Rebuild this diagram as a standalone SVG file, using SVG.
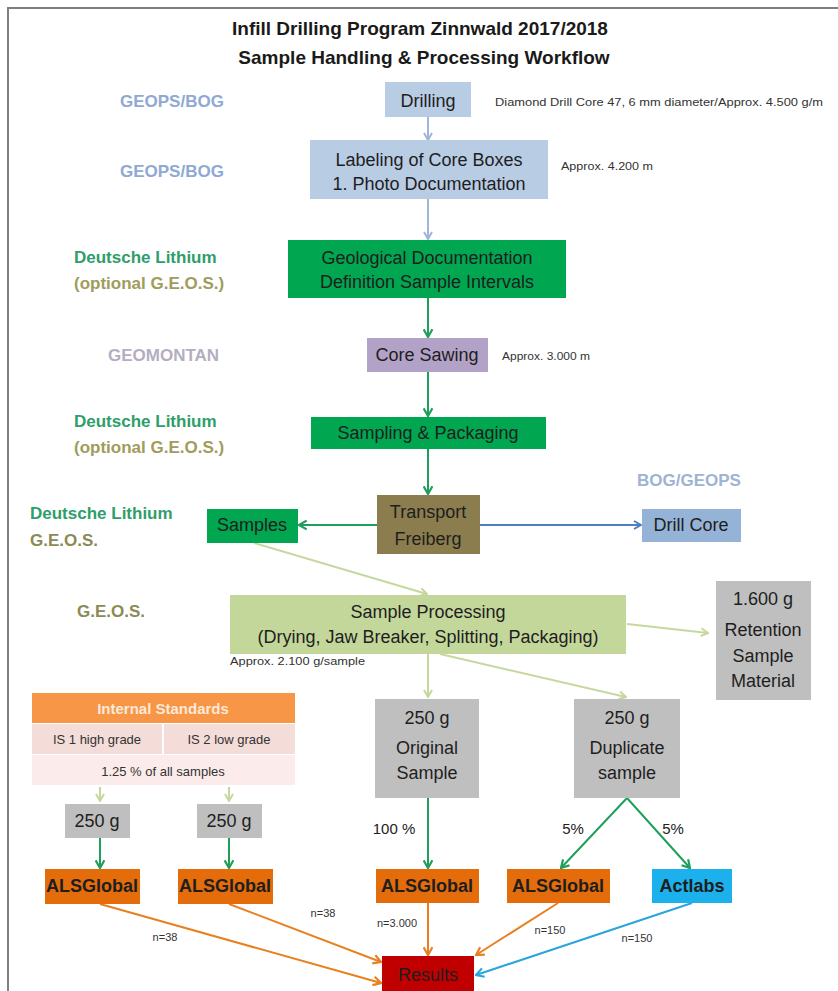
<svg xmlns="http://www.w3.org/2000/svg" width="838" height="991" viewBox="0 0 838 991">
  <style>
    text { font-family: "Liberation Sans", Arial, sans-serif; }
    .title { font-size: 19px; font-weight: bold; fill: #1a1a1a; text-anchor: middle; }
    .lbl { font-size: 17px; font-weight: bold; }
    .bx { font-size: 18px; fill: #1e1e1e; text-anchor: middle; }
    .note { font-size: 10px; fill: #333; }
    .pct { font-size: 15px; fill: #222; text-anchor: middle; }
    .n { font-size: 11px; fill: #333; text-anchor: middle; }
    .c-lb { stroke: #9fb6d8; }
    .c-gr { stroke: #1f9f5a; }
    .c-pg { stroke: #c6d89e; }
    .c-or { stroke: #e8801f; }
    .c-bl { stroke: #2aa6dc; }
    .c-db { stroke: #4f7fbd; }
    #connectors path { fill: none; stroke-width: 2; }
  </style>
  <defs>
    <marker id="a-lb" viewBox="0 0 10 10" refX="9" refY="5" markerWidth="10" markerHeight="10" markerUnits="userSpaceOnUse" orient="auto">
      <path d="M2,1 L9,5 L2,9" fill="none" stroke="#9fb6d8" stroke-width="2"/>
    </marker>
    <marker id="a-gr" viewBox="0 0 10 10" refX="9" refY="5" markerWidth="11" markerHeight="11" markerUnits="userSpaceOnUse" orient="auto">
      <path d="M2,1 L9,5 L2,9" fill="none" stroke="#1f9f5a" stroke-width="2"/>
    </marker>
    <marker id="a-pg" viewBox="0 0 10 10" refX="9" refY="5" markerWidth="10" markerHeight="10" markerUnits="userSpaceOnUse" orient="auto">
      <path d="M2,1 L9,5 L2,9" fill="none" stroke="#c6d89e" stroke-width="2"/>
    </marker>
    <marker id="a-or" viewBox="0 0 10 10" refX="9" refY="5" markerWidth="11" markerHeight="11" markerUnits="userSpaceOnUse" orient="auto">
      <path d="M2,1 L9,5 L2,9" fill="none" stroke="#e8801f" stroke-width="2"/>
    </marker>
    <marker id="a-bl" viewBox="0 0 10 10" refX="9" refY="5" markerWidth="11" markerHeight="11" markerUnits="userSpaceOnUse" orient="auto">
      <path d="M2,1 L9,5 L2,9" fill="none" stroke="#2aa6dc" stroke-width="2"/>
    </marker>
    <marker id="a-db" viewBox="0 0 10 10" refX="9" refY="5" markerWidth="10" markerHeight="10" markerUnits="userSpaceOnUse" orient="auto">
      <path d="M2,1 L9,5 L2,9" fill="none" stroke="#4f7fbd" stroke-width="2"/>
    </marker>
  </defs>

  <rect width="838" height="991" fill="#ffffff"/>
  <!-- page frame (top and left edges) -->
  <path d="M8,1000 L8,8 L845,8" fill="none" stroke="#7f7f7f" stroke-width="2"/>

  <!-- heading -->
  <text class="title" x="420" y="35">Infill Drilling Program Zinnwald 2017/2018</text>
  <text class="title" x="424" y="64">Sample Handling &amp; Processing Workflow</text>

  <!-- responsibility labels -->
  <g id="responsibilities">
    <text class="lbl" x="120" y="107" fill="#8fa9d4">GEOPS/BOG</text>
    <text class="lbl" x="120" y="177" fill="#8fa9d4">GEOPS/BOG</text>
    <text class="lbl" x="74" y="263" fill="#2e9e6a">Deutsche Lithium</text>
    <text class="lbl" x="74" y="289" fill="#a09c5c">(optional G.E.O.S.)</text>
    <text class="lbl" x="108" y="361" fill="#b5aec0">GEOMONTAN</text>
    <text class="lbl" x="74" y="427" fill="#2e9e6a">Deutsche Lithium</text>
    <text class="lbl" x="74" y="453" fill="#a09c5c">(optional G.E.O.S.)</text>
    <text class="lbl" x="30" y="519" fill="#2e9e6a">Deutsche Lithium</text>
    <text class="lbl" x="30" y="546" fill="#8c8a55">G.E.O.S.</text>
    <text class="lbl" x="77" y="617" fill="#8c8a55">G.E.O.S.</text>
    <text class="lbl" x="637" y="486" fill="#9fb3d2">BOG/GEOPS</text>
  </g>

  <!-- side notes -->
  <text class="note" x="495" y="106" textLength="328" lengthAdjust="spacingAndGlyphs">Diamond Drill Core 47, 6 mm diameter/Approx.  4.500 g/m</text>
  <text class="note" x="561" y="170" textLength="92" lengthAdjust="spacingAndGlyphs">Approx. 4.200 m</text>
  <text class="note" x="502" y="360" textLength="88" lengthAdjust="spacingAndGlyphs">Approx. 3.000 m</text>
  <text class="note" x="230" y="665" textLength="135" lengthAdjust="spacingAndGlyphs">Approx. 2.100 g/sample</text>

  <!-- connectors -->
  <g id="connectors">
    <path class="c-lb" d="M428,117 L428,140" marker-end="url(#a-lb)"/>
    <path class="c-lb" d="M428,199 L428,239" marker-end="url(#a-lb)"/>
    <path class="c-gr" d="M428,298 L428,337" marker-end="url(#a-gr)"/>
    <path class="c-gr" d="M428,372 L428,416" marker-end="url(#a-gr)"/>
    <path class="c-gr" d="M428,449 L428,494" marker-end="url(#a-gr)"/>
    <path class="c-gr" d="M377,525 L299,525" marker-end="url(#a-gr)"/>
    <path class="c-db" d="M480,525 L641,525" stroke-width="1.5" marker-end="url(#a-db)"/>
    <path class="c-pg" d="M254,543 L427,594" marker-end="url(#a-pg)"/>
    <path class="c-pg" d="M627,624 L708,633" marker-end="url(#a-pg)"/>
    <path class="c-pg" d="M428,654 L428,697" marker-end="url(#a-pg)"/>
    <path class="c-pg" d="M440,654 L626,697" marker-end="url(#a-pg)"/>
    <path class="c-pg" d="M100,787 L100,801" marker-end="url(#a-pg)"/>
    <path class="c-pg" d="M229,787 L229,801" marker-end="url(#a-pg)"/>
    <path class="c-gr" d="M100,838 L100,868" marker-end="url(#a-gr)"/>
    <path class="c-gr" d="M229,838 L229,868" marker-end="url(#a-gr)"/>
    <path class="c-gr" d="M428,798 L428,868" marker-end="url(#a-gr)"/>
    <path class="c-gr" d="M627,798 L561,868" marker-end="url(#a-gr)"/>
    <path class="c-gr" d="M627,798 L690,868" marker-end="url(#a-gr)"/>
    <path class="c-or" d="M100,904 L381,983" marker-end="url(#a-or)"/>
    <path class="c-or" d="M229,904 L381,962" marker-end="url(#a-or)"/>
    <path class="c-or" d="M428,903 L428,955" marker-end="url(#a-or)"/>
    <path class="c-or" d="M558,903 L476,955" marker-end="url(#a-or)"/>
    <path class="c-bl" d="M692,903 L476,975" marker-end="url(#a-bl)"/>
  </g>

  <!-- connector labels -->
  <text class="pct" x="394" y="834">100 %</text>
  <text class="pct" x="573" y="834">5%</text>
  <text class="pct" x="673" y="834">5%</text>
  <text class="n" x="165" y="941">n=38</text>
  <text class="n" x="323" y="917">n=38</text>
  <text class="n" x="397" y="927">n=3.000</text>
  <text class="n" x="550" y="934">n=150</text>
  <text class="n" x="637" y="942">n=150</text>

  <!-- nodes -->
  <g id="drilling">
    <rect x="385" y="82" width="86" height="35" fill="#b8cce4"/>
    <text class="bx" x="428" y="107" font-size="21">Drilling</text>
  </g>
  <g id="labeling">
    <rect x="310" y="140" width="238" height="59" fill="#b8cce4"/>
    <text class="bx" x="429" y="166">Labeling of Core Boxes</text>
    <text class="bx" x="429" y="190">1. Photo Documentation</text>
  </g>
  <g id="geological">
    <rect x="288" y="240" width="278" height="58" fill="#00a650"/>
    <text class="bx" x="427" y="264">Geological Documentation</text>
    <text class="bx" x="427" y="288">Definition Sample Intervals</text>
  </g>
  <g id="sawing">
    <rect x="367" y="338" width="121" height="34" fill="#b3a2c7"/>
    <text class="bx" x="427" y="361">Core Sawing</text>
  </g>
  <g id="sampling">
    <rect x="311" y="417" width="235" height="32" fill="#00a650"/>
    <text class="bx" x="428" y="439">Sampling &amp; Packaging</text>
  </g>
  <g id="transport">
    <rect x="377" y="495" width="103" height="59" fill="#8b7d4e"/>
    <text class="bx" x="428" y="518" font-size="16">Transport</text>
    <text class="bx" x="428" y="545" font-size="16">Freiberg</text>
  </g>
  <g id="samples">
    <rect x="207" y="509" width="91" height="34" fill="#00a650"/>
    <text class="bx" x="252" y="531" font-size="16">Samples</text>
  </g>
  <g id="drillcore">
    <rect x="642" y="509" width="99" height="33" fill="#95b3d7"/>
    <text class="bx" x="691" y="531" font-size="16">Drill Core</text>
  </g>
  <g id="processing">
    <rect x="230" y="595" width="396" height="59" fill="#c4d79b"/>
    <text class="bx" x="428" y="618" font-size="16">Sample Processing</text>
    <text class="bx" x="428" y="643" font-size="14">(Drying, Jaw Breaker,  Splitting, Packaging)</text>
  </g>
  <g id="retention">
    <rect x="716" y="581" width="95" height="119" fill="#bfbfbf"/>
    <text class="bx" x="763" y="605">1.600 g</text>
    <text class="bx" x="763" y="636">Retention</text>
    <text class="bx" x="763" y="662">Sample</text>
    <text class="bx" x="763" y="687">Material</text>
  </g>
  <g id="original">
    <rect x="375" y="699" width="104" height="99" fill="#bfbfbf"/>
    <text class="bx" x="427" y="724">250 g</text>
    <text class="bx" x="427" y="754">Original</text>
    <text class="bx" x="427" y="779">Sample</text>
  </g>
  <g id="duplicate">
    <rect x="574" y="699" width="106" height="99" fill="#bfbfbf"/>
    <text class="bx" x="627" y="724">250 g</text>
    <text class="bx" x="627" y="754">Duplicate</text>
    <text class="bx" x="627" y="779">sample</text>
  </g>
  <g id="standards">
    <rect x="32" y="693" width="263" height="30" fill="#f79646"/>
    <text x="163" y="714" font-size="15" font-weight="bold" fill="#fde9d9" text-anchor="middle">Internal Standards</text>
    <rect x="32" y="724" width="130" height="30" fill="#f4dcd8"/>
    <rect x="164" y="724" width="131" height="30" fill="#f4dcd8"/>
    <text x="97" y="744" font-size="13" fill="#333" text-anchor="middle">IS 1 high grade</text>
    <text x="229" y="744" font-size="13" fill="#333" text-anchor="middle">IS 2 low grade</text>
    <rect x="32" y="755" width="263" height="30" fill="#fbeceb"/>
    <text x="163" y="776" font-size="13" fill="#333" text-anchor="middle">1.25 % of all samples</text>
  </g>
  <g id="is1-250">
    <rect x="65" y="804" width="65" height="34" fill="#bfbfbf"/>
    <text class="bx" x="97" y="827">250 g</text>
  </g>
  <g id="is2-250">
    <rect x="197" y="804" width="65" height="34" fill="#bfbfbf"/>
    <text class="bx" x="229" y="827">250 g</text>
  </g>
  <g id="als1">
    <rect x="45" y="869" width="95" height="35" fill="#e46c0a"/>
    <text class="bx" x="92" y="892" font-size="15" font-weight="bold" fill="#4a2a10">ALSGlobal</text>
  </g>
  <g id="als2">
    <rect x="178" y="869" width="95" height="35" fill="#e46c0a"/>
    <text class="bx" x="225" y="892" font-size="15" font-weight="bold" fill="#4a2a10">ALSGlobal</text>
  </g>
  <g id="als3">
    <rect x="376" y="869" width="103" height="34" fill="#e46c0a"/>
    <text class="bx" x="427" y="892" font-size="15" font-weight="bold" fill="#4a2a10">ALSGlobal</text>
  </g>
  <g id="als4">
    <rect x="507" y="869" width="103" height="34" fill="#e46c0a"/>
    <text class="bx" x="558" y="892" font-size="15" font-weight="bold" fill="#4a2a10">ALSGlobal</text>
  </g>
  <g id="actlabs">
    <rect x="652" y="869" width="80" height="34" fill="#1cb0ec"/>
    <text class="bx" x="692" y="892" font-size="15" font-weight="bold" fill="#10324a">Actlabs</text>
  </g>
  <g id="results">
    <rect x="382" y="956" width="92" height="40" fill="#c00000"/>
    <text class="bx" x="428" y="981" font-size="17" fill="#3a0000">Results</text>
  </g>
</svg>
